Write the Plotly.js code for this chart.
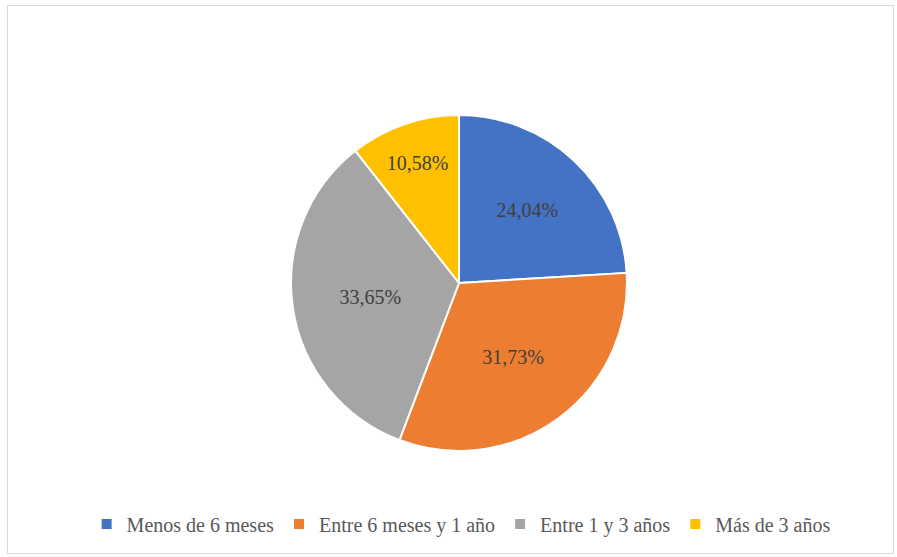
<!DOCTYPE html>
<html>
<head>
<meta charset="utf-8">
<script src="https://cdn.plot.ly/plotly-3.0.1.min.js"></script>
<style>
  html, body { margin: 0; padding: 0; background: #ffffff; }
  #frame { position: absolute; left: 7px; top: 5px; width: 885px; height: 547px; border: 1px solid #d9d9d9; }
  #chart { width: 885px; height: 547px; }
</style>
</head>
<body>
<div id="frame"><div id="chart"></div></div>
<script>
const categories = ["Menos de 6 meses", "Entre 6 meses y 1 año", "Entre 1 y 3 años", "Más de 3 años"];
const values = [24.04, 31.73, 33.65, 10.58];
const colors = ["#4472C4", "#ED7D31", "#A5A5A5", "#FFC000"];

const trace = {
  type: "pie",
  labels: categories,
  values: values,
  sort: false,
  direction: "clockwise",
  rotation: 0,
  domain: { x: [0.3198, 0.6994], y: [0, 1] },
  marker: { colors: colors, line: { color: "#ffffff", width: 2 } },
  texttemplate: "%{value:.2f}%",
  textposition: "inside",
  insidetextorientation: "horizontal",
  textfont: { family: "Liberation Serif, Times New Roman, serif", size: 20, color: "#404040" },
  hoverinfo: "label+percent",
  automargin: false
};

const layout = {
  width: 885,
  height: 547,
  separators: ",.",
  paper_bgcolor: "#ffffff",
  margin: { l: 0, r: 0, t: 109, b: 102 },
  showlegend: true,
  legend: {
    orientation: "h",
    xref: "container", yref: "container",
    x: 0.512, xanchor: "center",
    y: 0.053, yanchor: "middle",
    font: { family: "Liberation Serif, Times New Roman, serif", size: 20, color: "#595959" },
    traceorder: "normal"
  }
};

Plotly.newPlot("chart", [trace], layout, { displayModeBar: false, staticPlot: true });
</script>
</body>
</html>
